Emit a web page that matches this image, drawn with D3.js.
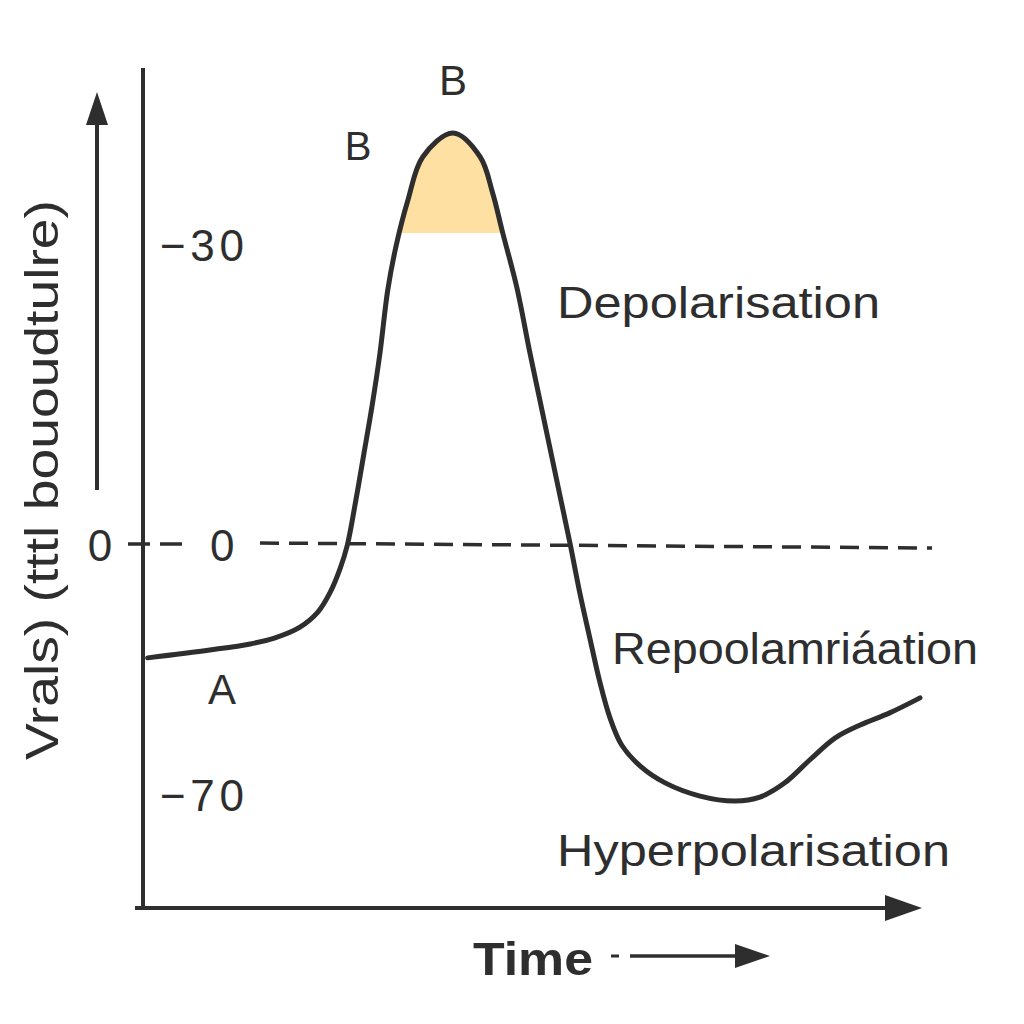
<!DOCTYPE html>
<html>
<head>
<meta charset="utf-8">
<script src="https://cdn.jsdelivr.net/npm/d3@7"></script>
<style>
  body { margin: 0; background: #fff; }
  text { font-family: "Liberation Sans", Arial, sans-serif; fill: #2e2e2e; }
</style>
</head>
<body>
<div id="chart"></div>
<script>
// action potential trace, time (0-100) vs membrane potential (mV)
var times = [0.6, 8.6, 13.8, 17.0, 20.2, 22.5, 24.1, 25.4, 26.3, 27.4, 28.4, 29.5, 30.5, 31.5, 32.6,
             34.1, 36.0, 39.9, 43.4, 45.0, 46.3, 48.1, 49.8, 51.1, 52.4, 53.7, 55.0, 56.2, 57.5,
             58.8, 60.1, 61.6, 64.0, 67.2, 71.7, 76.2, 79.4, 82.6, 85.8, 89.1, 92.3, 96.1, 100];
var volts = [-31.6, -29.4, -27.7, -26.0, -23.0, -18.8, -13.2, -6.4, 0, 4.5, 9.0, 14.0, 19.2, 25.5, 30.0,
             34.5, 38.8, 41.2, 38.8, 35.2, 31.2, 25.8, 19.2, 14.4, 9.6, 4.8, 0, -13.2, -26.0,
             -38.4, -48.4, -56.0, -61.9, -66.6, -70.3, -71.7, -70.6, -66.6, -60.2, -54.0, -50.4, -47.0, -42.8];
var tickValues = [30, 0, -70];
var tickLabels = ["\u221230", "0", "\u221270"];
var peakLevel = 31.2;

var width = 1024, height = 1024;
var ink = "#2e2e2e";

var svg = d3.select("#chart").append("svg")
    .attr("width", width)
    .attr("height", height);

var x = d3.scaleLinear().domain([0, 100]).range([143, 920]);
// the drawing is not to scale, so a piecewise scale
var y = d3.scaleLinear().domain([-70, 0, 30]).range([795, 545, 245]);

var data = times.map(function(t, i) { return {t: t, v: volts[i]}; });

// shaded peak
svg.append("clipPath").attr("id", "peakclip")
  .append("rect")
    .attr("x", 0).attr("y", 0)
    .attr("width", width).attr("height", y(peakLevel));

var area = d3.area()
    .x(function(d) { return x(d.t); })
    .y0(y(peakLevel))
    .y1(function(d) { return y(d.v); })
    .curve(d3.curveCatmullRom);

svg.append("path")
    .datum(data)
    .attr("d", area)
    .attr("fill", "#fde0a2")
    .attr("clip-path", "url(#peakclip)");

// dashed zero line, broken for the label
svg.append("line")
    .attr("x1", 128).attr("x2", 190)
    .attr("y1", y(0) - 1).attr("y2", y(0) - 1)
    .attr("stroke", ink).attr("stroke-width", 3.5)
    .attr("stroke-dasharray", "22,10");
svg.append("line")
    .attr("x1", 260).attr("x2", 932)
    .attr("y1", y(0) - 2).attr("y2", y(0) + 3)
    .attr("stroke", ink).attr("stroke-width", 3.5)
    .attr("stroke-dasharray", "19,10");

// axes
svg.append("line")
    .attr("x1", 143).attr("x2", 143)
    .attr("y1", 68).attr("y2", 908)
    .attr("stroke", ink).attr("stroke-width", 4);
svg.append("line")
    .attr("x1", 135).attr("x2", 895)
    .attr("y1", 908).attr("y2", 908)
    .attr("stroke", ink).attr("stroke-width", 4);
svg.append("path")
    .attr("d", "M885,895 L922,908 L885,921 Z")
    .attr("fill", ink);

// tick labels
var yAxis = d3.axisRight(y)
    .tickValues(tickValues)
    .tickSize(0)
    .tickPadding(0)
    .tickFormat(function(d, i) { return tickLabels[i]; });

var ax = svg.append("g")
    .attr("transform", "translate(158,0)")
    .call(yAxis);
ax.select(".domain").remove();
ax.selectAll("text")
    .style("font-size", "44px")
    .attr("fill", ink)
    .attr("dy", "0.36em")
    .attr("x", function(d) { return d == 0 ? 52 : 2; })
    .attr("textLength", function(d) { return d == 0 ? null : 84; })
    .attr("lengthAdjust", "spacing");

svg.append("text")
    .attr("x", 100).attr("y", y(0))
    .attr("dy", "0.36em")
    .attr("text-anchor", "middle")
    .style("font-size", "44px")
    .text("0");

// y arrow and label
svg.append("line")
    .attr("x1", 97).attr("x2", 97)
    .attr("y1", 490).attr("y2", 120)
    .attr("stroke", ink).attr("stroke-width", 4);
svg.append("path")
    .attr("d", "M86,125 L97,92 L108,125 Z")
    .attr("fill", ink);

svg.append("text")
    .attr("transform", "translate(58,480) rotate(-90)")
    .attr("text-anchor", "middle")
    .attr("textLength", 560)
    .attr("lengthAdjust", "spacingAndGlyphs")
    .style("font-size", "46px")
    .text("Vrals) (tttl bououdtulre)");

// trace
var line = d3.line()
    .x(function(d) { return x(d.t); })
    .y(function(d) { return y(d.v); })
    .curve(d3.curveCatmullRom);

svg.append("path")
    .datum(data)
    .attr("d", line)
    .attr("fill", "none")
    .attr("stroke", ink)
    .attr("stroke-width", 5)
    .attr("stroke-linecap", "round");

// annotations
var notes = [
  {text: "B", x: 453, y: 95, size: 42, len: null},
  {text: "B", x: 358, y: 160, size: 40, len: null},
  {text: "A", x: 222, y: 704, size: 42, len: null},
  {text: "Depolarisation", x: 557, y: 318, size: 45, len: 323},
  {text: "Repoolamri\u00e1ation", x: 612, y: 664, size: 45, len: 366},
  {text: "Hyperpolarisation", x: 557, y: 866, size: 45, len: 393}
];
svg.selectAll("text.note")
    .data(notes)
    .enter()
    .append("text")
    .attr("class", "note")
    .attr("x", function(d) { return d.x; })
    .attr("y", function(d) { return d.y; })
    .attr("text-anchor", function(d) { return d.len ? "start" : "middle"; })
    .attr("textLength", function(d) { return d.len; })
    .attr("lengthAdjust", "spacingAndGlyphs")
    .style("font-size", function(d) { return d.size + "px"; })
    .text(function(d) { return d.text; });

// time label + arrow
svg.append("text")
    .attr("x", 473).attr("y", 975)
    .attr("textLength", 120)
    .attr("lengthAdjust", "spacingAndGlyphs")
    .style("font-size", "47px")
    .style("font-weight", "bold")
    .text("Time");
svg.append("line")
    .attr("x1", 611).attr("x2", 619)
    .attr("y1", 956).attr("y2", 956)
    .attr("stroke", ink).attr("stroke-width", 3);
svg.append("line")
    .attr("x1", 630).attr("x2", 740)
    .attr("y1", 956).attr("y2", 956)
    .attr("stroke", ink).attr("stroke-width", 3.5);
svg.append("path")
    .attr("d", "M735,944 L770,956 L735,968 Z")
    .attr("fill", ink);
</script>
</body>
</html>
